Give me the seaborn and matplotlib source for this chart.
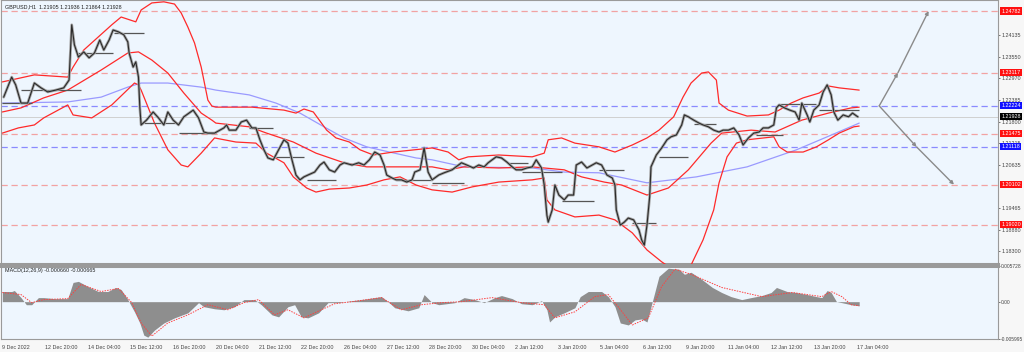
import matplotlib
matplotlib.use("Agg")
import matplotlib.pyplot as plt
import seaborn as sns
from matplotlib.transforms import blended_transform_factory

sns.set_style("white")
plt.rcParams['font.family'] = ['Liberation Sans', 'DejaVu Sans']

# ---------------- data ----------------
close_bars = [1,7,10,14,19,24,29,34,40,46,50,52,54,57,61,65,69,73,76,80,83,87,91,94,95,98,100,102,103,104,108,113,117,121,124,128,132,136,143,147,151,154,159,
              166,168,170,175,179,183,187,190,193,196,199,203,207,211,214,217,220,223,226,229,234,238,241,245,249,253,256,262,267,271,275,279,283,286,288,292,295,299,303,307,309,313,316,319,
              322,327,331,337,340,344,348,353,357,361,364,367,370,374,378,382,385,389,393,397,400,404,406,408,409,412,414,417,421,424,428,430,434,438,442,445,449,453,457,459,460,463,466,469,473,477,479,481,
              483,485,486,490,494,498,501,505,509,511,514,518,522,525,529,533,537,540,544,548,552,555,559,563,567,570,574,578,580,582,586,590,594,597,599,603,605,608,612,615,618,621,623,626,630,634,637,641]
close = [1.2246,1.2300,1.2279,1.2230,1.2230,1.2284,1.2271,1.2260,1.2265,1.2271,1.2292,1.2441,1.2387,1.2354,1.2368,1.2352,1.2365,1.2400,1.2373,1.2400,1.2427,1.2422,1.2414,1.2395,1.2365,1.2327,1.2341,1.2300,1.2219,1.2171,1.2184,1.2206,1.2190,1.2171,1.2206,1.2184,1.2171,1.2193,1.2211,1.2190,1.2152,1.2149,1.2149,
         1.2163,1.2171,1.2157,1.2157,1.2179,1.2184,1.2163,1.2163,1.2131,1.2104,1.2082,1.2077,1.2104,1.2131,1.2122,1.2077,1.2036,1.2023,1.2031,1.2036,1.2044,1.2063,1.2071,1.2050,1.2044,1.2063,1.2069,1.2063,1.2069,1.2063,1.2077,1.2098,1.2090,1.2063,1.2036,1.2028,1.2023,1.2023,1.2017,1.2023,1.2044,1.2050,1.2109,1.2044,
         1.2023,1.2036,1.2042,1.2050,1.2058,1.2069,1.2063,1.2055,1.2063,1.2058,1.2069,1.2077,1.2085,1.2082,1.2071,1.2058,1.2050,1.2050,1.2055,1.2058,1.2077,1.2055,1.2009,1.1928,1.1909,1.1942,1.2009,1.1982,1.1969,1.1982,1.1982,1.2063,1.2071,1.2055,1.2063,1.2069,1.2063,1.2036,1.2028,1.2009,1.1942,1.1901,1.1909,1.1920,1.1915,1.1888,1.1861,1.1847,
         1.1901,1.1977,1.2058,1.2090,1.2109,1.2131,1.2139,1.2144,1.2171,1.2198,1.2193,1.2184,1.2176,1.2171,1.2166,1.2157,1.2152,1.2157,1.2157,1.2163,1.2144,1.2117,1.2136,1.2149,1.2152,1.2163,1.2163,1.2171,1.2217,1.2225,1.2217,1.2211,1.2206,1.2184,1.2230,1.2198,1.2179,1.2211,1.2225,1.2260,1.2279,1.2252,1.2206,1.2184,1.2198,1.2193,1.2203,1.21928]

upper_bars = [0,24,49,53,61,82,89,100,104,112,121,129,134,139,144,149,154,157,160,187,211,220,226,233,243,250,260,268,278,293,322,334,342,349,372,397,406,409,419,429,447,459,472,483,492,503,510,516,524,529,535,537,544,558,574,582,591,600,612,619,627,642]
upper = [1.2287,1.2306,1.2300,1.2327,1.2373,1.2441,1.2462,1.2449,1.2481,1.2500,1.2503,1.2497,1.2473,1.2435,1.2392,1.2327,1.2238,1.2222,1.2219,1.2219,1.2211,1.2203,1.2214,1.2206,1.2157,1.2136,1.2125,1.2104,1.2090,1.2098,1.2109,1.2098,1.2077,1.2085,1.2090,1.2085,1.2095,1.2131,1.2136,1.2122,1.2112,1.2098,1.2117,1.2136,1.2157,1.2193,1.2246,1.2284,1.2311,1.2314,1.2292,1.2230,1.2211,1.2195,1.2198,1.2211,1.2230,1.2244,1.2257,1.2276,1.2271,1.2265]

mid_bars = [0,14,31,49,74,94,102,112,124,136,149,157,160,185,198,218,235,256,273,290,322,334,346,372,397,421,434,451,464,483,499,514,531,539,561,579,599,619,636,642]
mid = [1.2206,1.2217,1.2244,1.2265,1.2319,1.2365,1.2368,1.2346,1.2311,1.2257,1.2203,1.2184,1.2176,1.2166,1.2149,1.2125,1.2095,1.2069,1.2058,1.2058,1.2058,1.2050,1.2058,1.2055,1.2058,1.2050,1.2031,1.2017,1.2009,1.1982,1.2001,1.2050,1.2122,1.2149,1.2157,1.2152,1.2184,1.2203,1.2217,1.2219]

lower_bars = [0,12,24,31,49,53,67,82,99,102,104,114,124,134,139,149,159,175,190,198,211,218,228,235,245,260,273,286,298,310,322,337,352,372,397,406,408,414,429,447,459,472,483,494,505,516,525,533,537,543,550,558,578,582,588,600,610,619,627,638,642]
lower = [1.2149,1.2163,1.2171,1.2190,1.2225,1.2198,1.2190,1.2225,1.2284,1.2279,1.2265,1.2176,1.2104,1.2063,1.2058,1.2095,1.2136,1.2125,1.2122,1.2095,1.2069,1.2031,1.2001,1.1990,1.1998,1.2001,1.2009,1.2023,1.2031,1.2009,1.1996,1.1990,1.2004,1.2017,1.2023,1.2028,1.1969,1.1942,1.1923,1.1928,1.1915,1.1880,1.1834,1.1802,1.1775,1.1793,1.1861,1.1942,1.2015,1.2085,1.2122,1.2131,1.2139,1.2112,1.2098,1.2098,1.2112,1.2131,1.2149,1.2166,1.2168]

ma_bars = [0,49,74,94,104,124,149,160,185,205,223,241,256,273,290,310,322,346,397,421,447,483,520,558,595,618,642]
ma = [1.2230,1.2233,1.2246,1.2273,1.2284,1.2284,1.2273,1.2265,1.2252,1.2230,1.2203,1.2166,1.2136,1.2112,1.2098,1.2082,1.2077,1.2058,1.2055,1.2044,1.2042,1.2015,1.2031,1.2058,1.2104,1.2139,1.2176]

# horizontal black level segments: start bar, end bar, price
seg_start = [0,14,57,84,106,132,185,205,228,295,322,379,389,419,447,472,492,518,565,582,612]
seg_end   = [22,59,83,106,132,160,203,226,250,322,346,394,419,443,466,490,514,535,585,610,642]
seg_price = [1.2230,1.2265,1.2365,1.2419,1.2176,1.2149,1.2163,1.2085,1.2023,1.2023,1.2015,1.2069,1.2044,1.1966,1.2050,1.1907,1.2085,1.2174,1.2144,1.2228,1.2211]

macd_bars = [0,7,9,14,18,22,27,31,39,49,53,57,64,72,79,85,89,94,99,103,106,109,114,121,129,139,147,151,159,166,174,181,189,194,202,207,214,219,224,229,237,244,252,262,269,284,289,294,304,312,316,322,327,339,346,354,361,369,374,382,389,397,404,408,410,414,421,429,433,439,449,454,459,463,469,474,479,483,486,492,499,507,511,516,524,532,539,546,554,561,569,576,580,588,595,603,610,614,618,621,625,629,636,642]
macd = [0.00163,0.00163,0.00179,0.00065,-0.00049,-0.00049,0.00065,0.00065,0.00049,0.00049,0.00309,0.00326,0.00244,0.00163,0.00163,0.00228,0.00195,0.00033,-0.00163,-0.00342,-0.00537,-0.00570,-0.00456,-0.00342,-0.00260,-0.00179,-0.00016,-0.00081,-0.00114,-0.00130,-0.00081,0.00033,0.00033,-0.00049,-0.00212,-0.00244,-0.00081,-0.00049,-0.00244,-0.00260,-0.00179,-0.00016,-0.00016,0.00016,0.00033,0.00081,0.0,-0.00098,-0.00147,-0.00098,0.00114,-0.00016,-0.00049,-0.00016,0.00065,0.00033,-0.00016,0.00065,0.00098,0.00049,-0.00033,-0.00049,0.00016,-0.00130,-0.00326,-0.00244,-0.00179,-0.00098,0.00081,0.00163,0.00163,0.00081,-0.00081,-0.00342,-0.00374,-0.00293,-0.00277,-0.00326,-0.00081,0.00407,0.00537,0.00521,0.00440,0.00472,0.00358,0.00228,0.00147,0.00081,0.00033,0.00065,0.00098,0.00147,0.00228,0.00163,0.00147,0.00114,0.00081,0.00065,0.00179,0.00147,0.0,-0.00016,-0.00049,-0.00066]

signal_bars = [0,14,22,31,49,59,74,87,97,104,112,124,139,154,169,181,192,204,214,226,239,249,262,284,299,314,329,344,367,389,406,414,429,444,454,462,472,484,494,504,516,539,569,592,614,621,629,636,642]
signal = [0.00147,0.00114,-0.00016,0.00033,0.00049,0.00277,0.00163,0.00212,-0.00016,-0.00342,-0.00553,-0.00342,-0.00212,-0.00049,-0.00130,-0.00016,0.00033,-0.00212,-0.00130,-0.00260,-0.00130,-0.00033,0.0,0.00065,-0.00130,-0.00049,-0.00016,0.0,0.00065,-0.00016,-0.00049,-0.00260,-0.00163,0.00081,0.00114,-0.00098,-0.00374,-0.00260,0.00244,0.00521,0.00440,0.00228,0.00081,0.00147,0.00081,0.00163,0.00081,-0.00049,-0.000665]

red_levels = [1.24782, 1.23117, 1.21475, 1.20102, 1.19020]
blue_levels = [1.22224, 1.21118]
last_price = 1.21928

arrow_start = (657, 1.22224)
arrow_up = [(671, 1.23117), (694, 1.24782)]
arrow_down = [(685, 1.21118), (713, 1.20102)]

price_ticks = [1.24135, 1.23550, 1.22970, 1.22385, 1.21800, 1.21215, 1.20635, 1.19465, 1.18880, 1.18300]
macd_ticks = [0.005728, 0.0, -0.005995]
macd_tick_labels = ["0.005728", "0.00", "-0.005995"]
time_ticks = list(range(0, 641, 32))
time_labels = ["9 Dec 2022", "12 Dec 20:00", "14 Dec 04:00", "15 Dec 12:00", "16 Dec 20:00", "20 Dec 04:00",
               "21 Dec 12:00", "22 Dec 20:00", "26 Dec 04:00", "27 Dec 12:00", "28 Dec 20:00", "30 Dec 04:00",
               "2 Jan 12:00", "3 Jan 20:00", "5 Jan 04:00", "6 Jan 12:00", "9 Jan 20:00", "11 Jan 04:00",
               "12 Jan 12:00", "13 Jan 20:00", "17 Jan 04:00"]

# ---------------- figure ----------------
W, H = 1024, 352
BG = '#eef6fe'
FS = 3.9
fig = plt.figure(figsize=(W / 100, H / 100), dpi=100)
fig.patch.set_facecolor('#f7f7f7')

def rect(x0, y0, x1, y1):
    return [x0 / W, 1 - y1 / H, (x1 - x0) / W, (y1 - y0) / H]

ax = fig.add_axes(rect(1, 0, 998, 264))
axm = fig.add_axes(rect(1, 266, 998, 339))
for a in (ax, axm):
    a.set_facecolor(BG)
    for s in a.spines.values():
        s.set_color('#9a9a9a')
        s.set_linewidth(0.8)
ax.spines['bottom'].set_linewidth(2.2)
axm.spines['top'].set_linewidth(2.2)

XL = (-1, 746)
ax.set_xlim(*XL)
axm.set_xlim(*XL)
ax.set_ylim(1.17961, 1.25079)
axm.set_ylim(-0.005995, 0.005728)

# levels
for lv in red_levels:
    ax.axhline(lv, color='#f2a2a2', lw=0.9, ls=(0, (5, 3)), zorder=1)
for lv in blue_levels:
    ax.axhline(lv, color='#8a8aff', lw=0.9, ls=(0, (5, 3)), zorder=1)
ax.axhline(last_price, color='#d0d0d0', lw=0.7, zorder=1)

# indicators
sns.lineplot(x=ma_bars, y=ma, ax=ax, color='#9a9aff', lw=0.9, legend=False, zorder=2)
for bb, vv in ((upper_bars, upper), (mid_bars, mid), (lower_bars, lower)):
    sns.lineplot(x=bb, y=vv, ax=ax, color='#ff2a2a', lw=0.9, legend=False, zorder=3)

# level segments
ax.hlines(seg_price, seg_start, seg_end, color='#555555', lw=0.9, zorder=4)

# price
sns.lineplot(x=close_bars, y=close, ax=ax, color='#a5a5a5', lw=2.0, legend=False, zorder=5)
sns.lineplot(x=close_bars, y=close, ax=ax, color='#2a2a2a', lw=0.8, legend=False, zorder=6)

# projection arrows
for path in (arrow_up, arrow_down):
    pts = [arrow_start] + path
    for p0, p1 in zip(pts[:-1], pts[1:]):
        ax.annotate('', xy=p1, xytext=p0,
                    arrowprops=dict(arrowstyle='-|>', color='#8a8a8a', lw=1.0,
                                    mutation_scale=5, shrinkA=0, shrinkB=0), zorder=7)

# right axis labels
ax.yaxis.tick_right()
ax.set_yticks(price_ticks)
ax.set_yticklabels([f"{t:.5f}" for t in price_ticks])
ax.tick_params(axis='y', labelsize=FS, length=1.5, pad=0.8, colors='#444444', width=0.5)
ax.tick_params(axis='x', bottom=False, labelbottom=False)

tr = blended_transform_factory(ax.transAxes, ax.transData)
def level_box(lv, fc):
    ax.text(1.0035, lv, f"{lv:.5f}", transform=tr, fontsize=FS, color='white', va='center', ha='left',
            bbox=dict(boxstyle='square,pad=0.2', fc=fc, ec='none'), clip_on=False, zorder=10)
for lv in red_levels:
    level_box(lv, '#ff1010')
for lv in blue_levels:
    level_box(lv, '#1010ff')
level_box(last_price, '#000000')

ax.text(0.004, 0.985, "GBPUSD,H1  1.21905 1.21936 1.21864 1.21928", transform=ax.transAxes,
        fontsize=FS, color='#222222', va='top', ha='left')

# MACD
axm.fill_between(macd_bars, macd, 0, color='#8e8e8e', lw=0, zorder=2)
sns.lineplot(x=signal_bars, y=signal, ax=axm, color='#ff4040', lw=0.7, ls=(0, (1.5, 1.2)), legend=False, zorder=3)
axm.yaxis.tick_right()
axm.set_yticks(macd_ticks)
axm.set_yticklabels(macd_tick_labels)
axm.tick_params(axis='y', labelsize=3.5, length=1.5, pad=0.6, colors='#444444', width=0.5)
axm.set_xticks(time_ticks)
axm.set_xticklabels(time_labels)
for lbl in axm.get_xticklabels():
    lbl.set_horizontalalignment('left')
axm.tick_params(axis='x', labelsize=FS, length=3, pad=1.5, colors='#444444', width=0.5)
axm.text(0.004, 0.97, "MACD(12,26,9) -0.000660 -0.000665", transform=axm.transAxes,
         fontsize=FS, color='#222222', va='top', ha='left')
for a in (ax, axm):
    a.set_xlabel('')
    a.set_ylabel('')

fig.savefig('out.png', dpi=100, facecolor=fig.get_facecolor())
